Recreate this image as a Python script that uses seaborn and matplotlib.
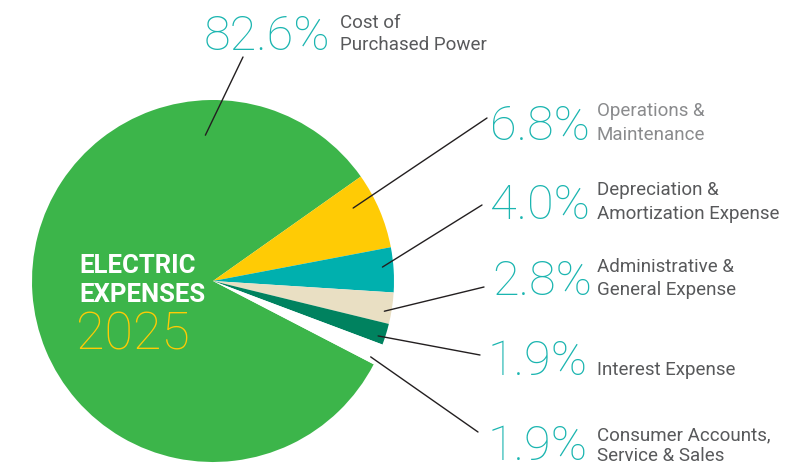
import numpy as np
import matplotlib
matplotlib.use("Agg")
import matplotlib.pyplot as plt
import seaborn as sns

# data
categories = ["Cost of Purchased Power", "Operations & Maintenance",
              "Depreciation & Amortization Expense", "Administrative & General Expense",
              "Interest Expense", "Consumer Accounts, Service & Sales"]
shares = [82.6, 6.8, 4.0, 2.8, 1.9, 1.9]
pct_labels = ["82.6%", "6.8%", "4.0%", "2.8%", "1.9%", "1.9%"]
label_lines = [["Cost of", "Purchased Power"],
               ["Operations &", "Maintenance"],
               ["Depreciation &", "Amortization Expense"],
               ["Administrative &", "General Expense"],
               ["Interest Expense"],
               ["Consumer Accounts,", "Service & Sales"]]
slice_colors = ["#3cb54a", "#ffcb05", "#00b0ae", "#e9dfc3", "#00825f", "#ffffff"]

# layout (pixel space, y measured from top)
W, H = 797, 466
center = (213, 281)
radius = 181
anchor_angle = [93, 27.5, 4.7, -10, -18.4, -25.7]
anchor_r = [146, 158, 170, 174, 174, 175]
line_end = [(243, 57), (487, 118), (482, 205), (484, 287), (480, 355), (478, 432)]
pct_pos = [(204, 50), (490, 140), (490, 219), (492, 295), (488, 375), (488, 460)]
label_x = [340, 597, 597, 597, 597, 597]
label_base = [[28, 50], [116, 140], [195, 219], [272, 295], [375], [440, 461]]
label_color = ["#58595b", "#8a8b8d", "#58595b", "#58595b", "#58595b", "#58595b"]

sns.set_theme(style="white")
plt.rcParams["font.family"] = ["Roboto", "DejaVu Sans"]

fig = plt.figure(figsize=(W / 100, H / 100), dpi=100)
ax = fig.add_axes([0, 0, 1, 1])

ax.pie(shares, colors=slice_colors, startangle=-27.4, counterclock=False,
       center=(center[0], H - center[1]), radius=radius,
       wedgeprops=dict(linewidth=0))
ax.set_xlim(0, W)
ax.set_ylim(0, H)
ax.set_aspect("equal")
ax.axis("off")

teal = "#1bb5b0"
for i in range(len(shares)):
    a = np.deg2rad(anchor_angle[i])
    x0 = center[0] + anchor_r[i] * np.cos(a)
    y0 = H - center[1] + anchor_r[i] * np.sin(a)
    ax.annotate("", xy=(x0, y0), xytext=(line_end[i][0], H - line_end[i][1]),
                arrowprops=dict(arrowstyle="-", lw=1, color="#231f20",
                                shrinkA=0, shrinkB=0))
    ax.text(pct_pos[i][0], H - pct_pos[i][1], pct_labels[i], color=teal,
            fontsize=35, fontweight="light", ha="left", va="baseline")
    for line, yb in zip(label_lines[i], label_base[i]):
        ax.text(label_x[i], H - yb, line, color=label_color[i], fontsize=13.5,
                ha="left", va="baseline")

ax.text(79, H - 273, "ELECTRIC", color="white", fontsize=18.5, fontweight="bold",
        ha="left", va="baseline")
ax.text(79, H - 302, "EXPENSES", color="white", fontsize=18.5, fontweight="bold",
        ha="left", va="baseline")
ax.text(76, H - 350, "2025", color="#ffcb05", fontsize=37.5, fontweight="light",
        ha="left", va="baseline")

fig.savefig("out.png", dpi=100, facecolor="white")
